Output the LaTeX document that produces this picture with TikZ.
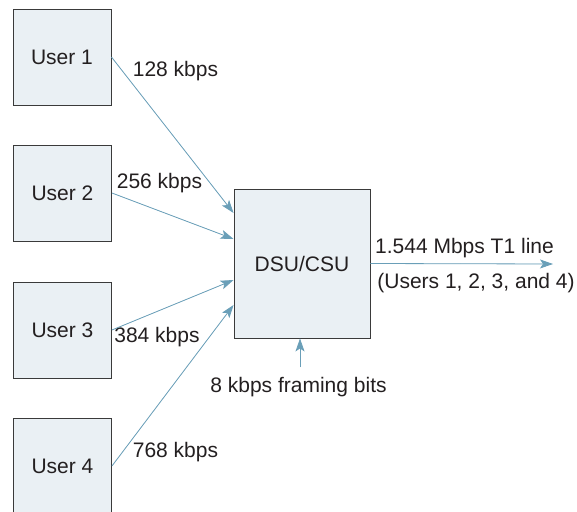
\documentclass[tikz,border=0pt]{standalone}
\usepackage{fontspec}
\setmainfont{Liberation Sans}
\usetikzlibrary{arrows.meta}
\definecolor{boxfill}{HTML}{EAF0F4}
\definecolor{boxline}{HTML}{3A3A3A}
\definecolor{linkblue}{HTML}{6A9FB8}
\definecolor{inkgray}{HTML}{231F20}
\begin{document}
\begin{tikzpicture}[x=1pt, y=-1pt,
  box/.style={draw=boxline, fill=boxfill, line width=0.9pt, inner sep=0pt, text=inkgray, font=\fontsize{21}{25}\selectfont},
  userbox/.style={box, minimum width=98pt, minimum height=96pt},
  lbl/.style={inner sep=0pt, text=inkgray, font=\fontsize{21}{25}\selectfont},
  arrow/.style={-{Stealth[length=13pt, width=9pt, inset=3pt]}, draw=linkblue, fill=linkblue, line width=0.8pt}
]
  \useasboundingbox (0,0) rectangle (577,511);
  \clip (0,0) rectangle (577,511);

  % Users
  \node[userbox] (user1) at (62,57) {User 1};
  \node[userbox] (user2) at (62.5,193) {User 2};
  \node[userbox] (user3) at (62.5,330) {User 3};
  \node[userbox] (user4) at (62.5,466) {User 4};

  % DSU/CSU
  \node[box, minimum width=136pt, minimum height=149pt] (dsu) at (302,263.5) {DSU/CSU};

  % Rates
  \node[lbl] (rate1) at (175.5,71) {128 kbps};
  \node[lbl] (rate2) at (159.5,183) {256 kbps};
  \node[lbl] (rate3) at (157,337) {384 kbps};
  \node[lbl] (rate4) at (175.5,452) {768 kbps};

  % T1 line
  \coordinate (t1end) at (553,264);
  \node[lbl] (t1) at (464.5,248) {1.544 Mbps T1 line};
  \node[lbl] (t1users) at (476,283) {(Users 1, 2, 3, and 4)};

  % Framing
  \coordinate (framing) at (300,367);
  \node[lbl] (framelbl) at (298.5,387) {8 kbps framing bits};

  % Arrows
  \draw[arrow] (user1.east) -- ([yshift=50.5pt]dsu.west);
  \draw[arrow] (user2.east) -- ([yshift=24.5pt]dsu.west);
  \draw[arrow] (user3.east) -- ([yshift=-16.5pt]dsu.west);
  \draw[arrow] (user4.east) -- ([yshift=-41.5pt]dsu.west);
  \draw[arrow] (dsu.east) -- (t1end);
  \draw[arrow] (framing) -- (framing |- dsu.south);

\end{tikzpicture}
\end{document}
